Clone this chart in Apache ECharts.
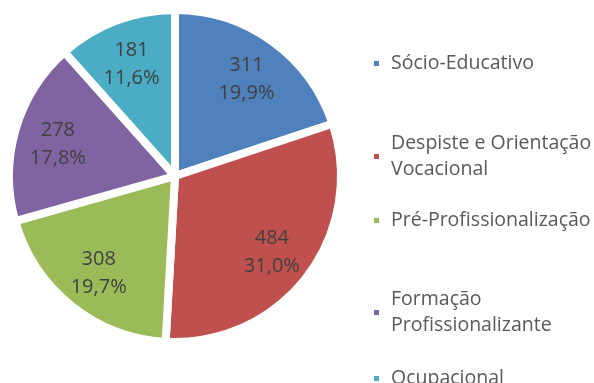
<!DOCTYPE html>
<html>
<head>
<meta charset="utf-8">
<style>
  html, body { margin: 0; padding: 0; background: #ffffff; }
  #chart { width: 594px; height: 383px; }
</style>
<script src="https://cdn.jsdelivr.net/npm/echarts@6/dist/echarts.min.js"></script>
</head>
<body>
<div id="chart"></div>
<script>
// Programme types and number of participants in each
const categories = ['Sócio-Educativo', 'Despiste e Orientação\nVocacional', 'Pré-Profissionalização', 'Formação\nProfissionalizante', 'Ocupacional'];
const values = [311, 484, 308, 278, 181];
const colors = ['#4F81BD', '#C0504D', '#9BBB59', '#8064A2', '#4BACC6'];

// Vertical position of each legend entry's first line
const legendLineY = [62, 142, 219, 298, 377];

const FONT = '"Open Sans", Lato, sans-serif';
const LINE = 26;

const pieData = categories.map((name, i) => ({ name: name, value: values[i], itemStyle: { color: colors[i] } }));

const legends = categories.map((name, i) => {
  const lines = name.split('\n').length;
  const padTop = (lines - 1) * LINE;
  return {
    orient: 'vertical',
    left: 372,
    top: legendLineY[i] + 1.5 - (lines * LINE + padTop) / 2 + (lines - 1) * LINE / 2,
    padding: 0,
    icon: 'rect',
    itemWidth: 7,
    itemHeight: 7,
    selectedMode: false,
    data: [name],
    textStyle: {
      fontFamily: FONT,
      fontSize: 19.5,
      color: '#595959',
      lineHeight: LINE,
      padding: [padTop, 0, 0, 6]
    }
  };
});

const chart = echarts.init(document.getElementById('chart'), null, { renderer: 'canvas' });
chart.setOption({
  animation: false,
  backgroundColor: '#ffffff',
  legend: legends,
  series: [
    {
      type: 'pie',
      center: [175, 176],
      radius: [0, 166],
      startAngle: 90,
      clockwise: true,
      silent: true,
      label: { show: false },
      labelLine: { show: false },
      itemStyle: { borderColor: '#ffffff', borderWidth: 8 },
      data: pieData
    },
    {
      // label carrier: places value / percent text at ~3/4 of the pie radius
      type: 'pie',
      center: [175, 178],
      radius: [0, 238],
      startAngle: 90,
      clockwise: true,
      silent: true,
      z: 3,
      itemStyle: { color: 'rgba(0,0,0,0)', borderWidth: 0 },
      emphasis: { disabled: true },
      labelLine: { show: false },
      label: {
        show: true,
        position: 'inside',
        fontFamily: FONT,
        fontSize: 20,
        lineHeight: 28,
        color: '#404040',
        formatter: p => p.value + '\n' + p.percent.toFixed(1).replace('.', ',') + '%'
      },
      data: pieData.map(d => ({ name: d.name, value: d.value }))
    }
  ]
});
</script>
</body>
</html>
